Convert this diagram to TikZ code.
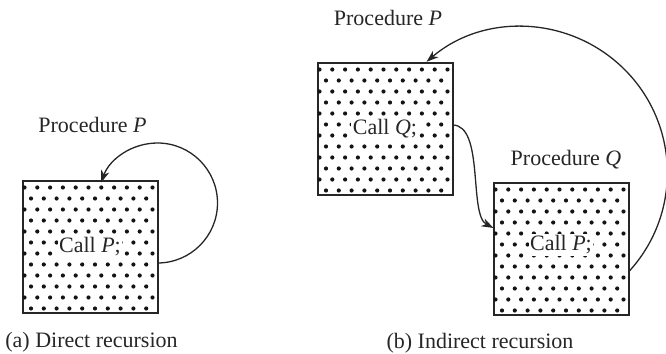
\documentclass[tikz,border=0pt]{standalone}
\usepackage{fontspec}
\setmainfont{Liberation Serif}
\usetikzlibrary{calc,arrows.meta}

\definecolor{ink}{HTML}{262626}
\definecolor{dotc}{HTML}{141414}

% stipple a procedure box with a staggered grid of dots
\newcommand\pepperbox[1]{%
  \begin{scope}
    \clip (#1.south west) rectangle (#1.north east);
    \foreach \j in {0,...,11}{%
      \pgfmathsetmacro\off{mod(\j,2)==0 ? 2 : 8.5}%
      \pgfmathtruncatemacro\kmax{mod(\j,2)==0 ? 10 : 9}%
      \foreach \k in {0,...,\kmax}{%
        \fill[dotc] ($(#1.north west)+(\off+12.8*\k,-6.5-11*\j)$) circle[radius=1.05pt];
      }}
  \end{scope}}

\tikzset{
  procbox/.style={draw=ink, line width=1pt, minimum width=67.5pt,
    minimum height=66pt, inner sep=0pt, outer sep=0pt},
  calltext/.style={fill=white, inner sep=0.8pt, text=ink,
    font=\fontsize{11}{13}\selectfont},
  label/.style={inner sep=0pt, text=ink, font=\fontsize{11}{13}\selectfont},
  link/.style={draw=ink, line width=0.65pt,
    -{Stealth[length=6pt,width=4.2pt,inset=1.8pt]}}
}

\begin{document}
\begin{tikzpicture}[x=0.5pt,y=0.5pt]
  \useasboundingbox (0,0) rectangle (666,354);

  % (a) direct recursion
  \node[procbox] (A) at (90,107) {};
  \pepperbox{A}
  \node[calltext] (callA) at (90,107) {Call \textit{P};};
  \node[label] (procA) at (92.5,229) {Procedure \textit{P}};
  \node[label] (capA) at (91.5,12) {(a) Direct recursion};
  \draw[link] ([yshift=-8pt]A.east) arc[start angle=-90,end angle=160,radius=30pt];

  % (b) indirect recursion
  \node[procbox] (P) at (385,225) {};
  \pepperbox{P}
  \node[calltext] (callQ) at (385,225) {Call \textit{Q};};
  \node[label] (procP) at (388,336) {Procedure \textit{P}};

  \node[procbox] (Q) at (561,105) {};
  \pepperbox{Q}
  \node[calltext] (callP) at (561,109) {Call \textit{P};};
  \node[label] (procQ) at (566,194) {Procedure \textit{Q}};

  \node[label] (capB) at (480,11) {(b) Indirect recursion};

  \draw[link] ([yshift=2pt]P.east) .. controls +(32,0) and +(-25,13) .. ([yshift=10.5pt]Q.west);
  \draw[link] ([yshift=-11.5pt]Q.east) arc[start angle=-42.8,end angle=130.5,radius=73pt];
\end{tikzpicture}
\end{document}
